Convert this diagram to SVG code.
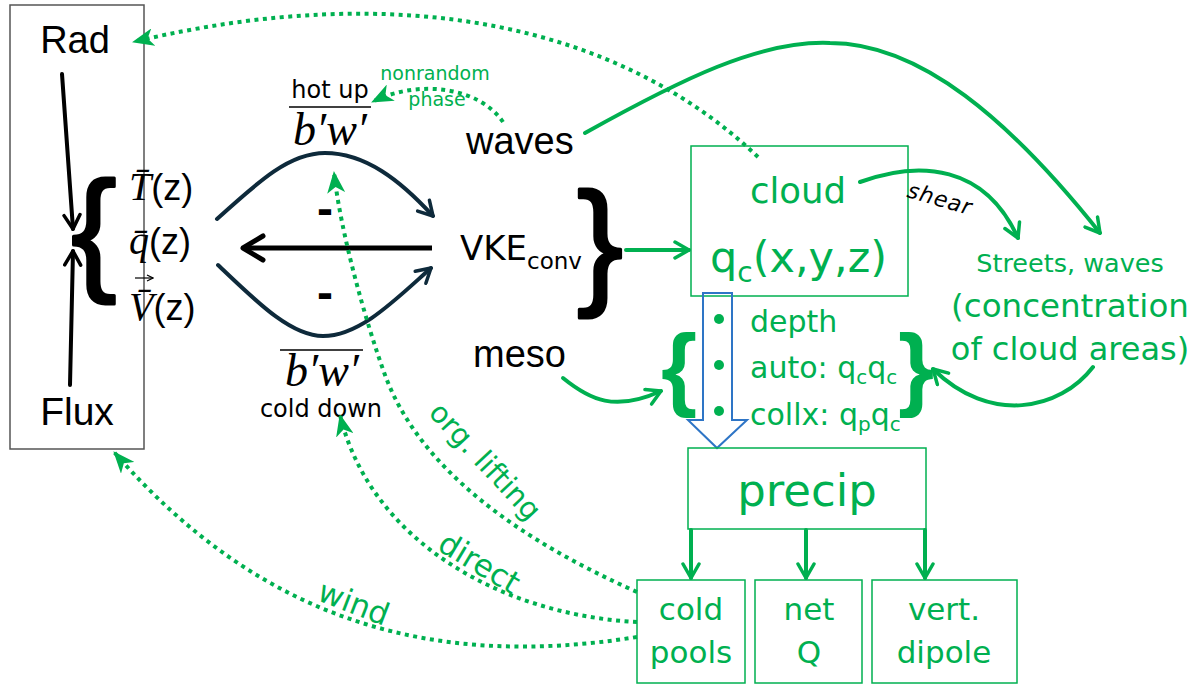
<svg xmlns="http://www.w3.org/2000/svg" width="1198" height="685" viewBox="0 0 1198 685">
<style>
.box{fill:none;stroke:#00B050;stroke-width:1.5}
.kbox{fill:none;stroke:#555;stroke-width:1.5}
.g{fill:#00B050}
.k{fill:#000}
.dj{font-family:"DejaVu Sans",sans-serif}
.ls{font-family:"Liberation Sans",Arial,sans-serif}
.ser{font-family:"Liberation Serif","DejaVu Serif",serif;font-style:italic}
.dot{fill:none;stroke:#00B050;stroke-width:4;stroke-dasharray:4 4.5}
.sg{fill:none;stroke:#00B050;stroke-width:4;stroke-linecap:round}
.nv{fill:none;stroke:#0E2A3B;stroke-width:4;stroke-linecap:round}
.bk{fill:none;stroke:#000;stroke-width:4;stroke-linecap:round}
.brk{stroke:#000;stroke-width:3;stroke-linejoin:round}
</style>
<defs>
<marker id="mG" viewBox="0 0 22 18" markerWidth="22" markerHeight="18" refX="21" refY="9" orient="auto" markerUnits="userSpaceOnUse"><path d="M0,0 L22,9 L0,18 L6,9 Z" fill="#00B050"/></marker>
<marker id="oG" viewBox="0 0 20 20" markerWidth="20" markerHeight="20" refX="17" refY="10" orient="auto" markerUnits="userSpaceOnUse"><path d="M3,2 L17,10 L3,18" fill="none" stroke="#00B050" stroke-width="3.5" stroke-linecap="round" stroke-linejoin="round"/></marker>
<marker id="oN" viewBox="0 0 20 20" markerWidth="20" markerHeight="20" refX="17" refY="10" orient="auto" markerUnits="userSpaceOnUse"><path d="M3,2 L17,10 L3,18" fill="none" stroke="#0E2A3B" stroke-width="3.5" stroke-linecap="round" stroke-linejoin="round"/></marker>
<marker id="oK" viewBox="0 0 20 20" markerWidth="20" markerHeight="20" refX="17" refY="10" orient="auto" markerUnits="userSpaceOnUse"><path d="M3,2 L17,10 L3,18" fill="none" stroke="#000" stroke-width="3.5" stroke-linecap="round" stroke-linejoin="round"/></marker>
<marker id="oKb" viewBox="0 0 28 30" markerWidth="28" markerHeight="30" refX="24" refY="15" orient="auto" markerUnits="userSpaceOnUse"><path d="M4,3 L24,15 L4,27" fill="none" stroke="#000" stroke-width="5" stroke-linecap="round" stroke-linejoin="round"/></marker>
<marker id="sA" viewBox="0 0 8 8" markerWidth="8" markerHeight="8" refX="7" refY="4" orient="auto" markerUnits="userSpaceOnUse"><path d="M1,1 L7,4 L1,7" fill="none" stroke="#000" stroke-width="1.2"/></marker>
</defs>

<g id="radflux">
<rect class="kbox" x="10" y="5" width="134" height="444"/>
<text class="ls k" x="75" y="53" font-size="38" text-anchor="middle">Rad</text>
<text class="ls k" x="77" y="425" font-size="39" text-anchor="middle">Flux</text>
</g>

<g id="state">
<text class="ls k brk" x="94" y="276" font-size="136" text-anchor="middle">{</text>
<text x="129" y="200" font-size="40" class="k"><tspan class="ser">T̄</tspan><tspan class="ls" font-size="36">(z)</tspan></text>
<text x="129" y="254" font-size="40" class="k"><tspan class="ser">q̄</tspan><tspan class="ls" font-size="36">(z)</tspan></text>
<text x="129" y="320" font-size="40" class="k"><tspan class="ser">V̄</tspan><tspan class="ls" font-size="36">(z)</tspan></text>
<path d="M135,278 L153,278" fill="none" stroke="#000" stroke-width="1.2" marker-end="url(#sA)"/>
</g>

<g id="bw-up">
<text class="dj k" x="330" y="98" font-size="24" text-anchor="middle">hot up</text>
<line x1="289" y1="107" x2="371" y2="107" stroke="#000" stroke-width="1.5"/>
<text class="ser k" x="330" y="145" font-size="46" text-anchor="middle">b′w′</text>
</g>

<g id="bw-down">
<line x1="280" y1="350" x2="363" y2="350" stroke="#000" stroke-width="1.5"/>
<text class="ser k" x="322" y="386" font-size="46" text-anchor="middle">b′w′</text>
<text class="dj k" x="321" y="417" font-size="24" text-anchor="middle">cold down</text>
</g>

<g id="minus">
<text class="ls k" x="325" y="225" font-size="48" font-weight="bold" text-anchor="middle">-</text>
<text class="ls k" x="325" y="309" font-size="48" font-weight="bold" text-anchor="middle">-</text>
</g>

<g id="vke">
<text class="dj k" x="460" y="260" font-size="34">VKE<tspan font-size="23" dy="9">conv</tspan></text>
<text class="ls k brk" x="600" y="289" font-size="138" text-anchor="middle">}</text>
</g>

<g id="waves">
<text class="ls k" x="466" y="154" font-size="38">waves</text>
</g>

<g id="meso">
<text class="ls k" x="473" y="367" font-size="38">meso</text>
</g>

<g id="cloud">
<rect class="box" x="691" y="146" width="217" height="150"/>
<text class="dj g" x="798" y="203" font-size="35.5" text-anchor="middle">cloud</text>
<text class="dj g" x="710" y="272" font-size="43">q<tspan font-size="28" dy="10">c</tspan><tspan dy="-10">(x,y,z)</tspan></text>
</g>

<g id="processes">
<path d="M703,293 L732,293 L732,420 L747,420 L717,448 L688,420 L703,420 Z" fill="none" stroke="#2E75C6" stroke-width="2"/>
<text class="ls g" x="679" y="399" font-size="93" font-weight="bold" text-anchor="middle">{</text>
<text class="ls g" x="916" y="399" font-size="93" font-weight="bold" text-anchor="middle">}</text>
<circle class="g" cx="719" cy="319" r="5"/>
<circle class="g" cx="719" cy="365" r="5"/>
<circle class="g" cx="719" cy="411" r="5"/>
<text class="dj g" x="750" y="332" font-size="30">depth</text>
<text class="dj g" x="750" y="378" font-size="30">auto: q<tspan font-size="20" dy="6">c</tspan><tspan dy="-6">q</tspan><tspan font-size="20" dy="6">c</tspan></text>
<text class="dj g" x="750" y="425" font-size="30">collx: q<tspan font-size="20" dy="6">p</tspan><tspan dy="-6">q</tspan><tspan font-size="20" dy="6">c</tspan></text>
</g>

<g id="streets">
<text class="dj g" x="1070" y="272" font-size="25.5" text-anchor="middle">Streets, waves</text>
<text class="dj g" x="1070" y="317" font-size="32.5" text-anchor="middle">(concentration</text>
<text class="dj g" x="1070" y="360" font-size="32" text-anchor="middle">of cloud areas)</text>
</g>

<g id="precip">
<rect class="box" x="688" y="448" width="238" height="81"/>
<text class="dj g" x="807" y="506" font-size="45" text-anchor="middle">precip</text>
</g>

<g id="coldpools">
<rect class="box" x="637" y="580" width="108" height="103"/>
<text class="dj g" x="691" y="620" font-size="31" text-anchor="middle">cold</text>
<text class="dj g" x="691" y="663" font-size="31" text-anchor="middle">pools</text>
</g>

<g id="netq">
<rect class="box" x="755" y="580" width="107" height="103"/>
<text class="dj g" x="809" y="620" font-size="31" text-anchor="middle">net</text>
<text class="dj g" x="809" y="663" font-size="31" text-anchor="middle">Q</text>
</g>

<g id="dipole">
<rect class="box" x="872" y="580" width="145" height="103"/>
<text class="dj g" x="944" y="620" font-size="31" text-anchor="middle">vert.</text>
<text class="dj g" x="944" y="663" font-size="31" text-anchor="middle">dipole</text>
</g>

<g id="connectors">
<path class="bk" d="M62,74 L73,229" marker-end="url(#oK)"/>
<path class="bk" d="M70,385 L73,251" marker-end="url(#oK)"/>
<path class="nv" d="M217,219 C 260,180 290,153 325,153 C 365,153 400,180 433,216" marker-end="url(#oN)"/>
<path class="nv" d="M218,265 C 255,300 290,336 323,336 C 360,336 395,300 431,268" marker-end="url(#oN)"/>
<path d="M432,248 L243,248" fill="none" stroke="#000" stroke-width="5" marker-end="url(#oKb)"/>
<path class="sg" d="M626,250 L689,250" marker-end="url(#oG)"/>
<path class="sg" d="M563,378 C 590,400 615,412 661,391" marker-end="url(#oG)"/>
<path class="sg" d="M585,133 C 680,80 760,40 830,43 C 920,43 1010,120 1100,233" marker-end="url(#oG)"/>
<path class="sg" d="M860,182 C 920,160 985,165 1018,238" marker-end="url(#oG)"/>
<path class="sg" d="M1093,367 C 1060,410 990,425 933,369" marker-end="url(#oG)"/>
<path class="sg" d="M691,530 L691,578" marker-end="url(#oG)"/>
<path class="sg" d="M806,530 L806,578" marker-end="url(#oG)"/>
<path class="sg" d="M925,530 L925,578" marker-end="url(#oG)"/>
<path class="dot" d="M758,157 C 620,25 400,-22 133,42" marker-end="url(#mG)"/>
<path class="dot" d="M503,122 C 480,88 420,78 372,102" marker-end="url(#mG)"/>
<path class="dot" d="M637,592 C 520,540 420,470 385,375 C 365,320 340,230 334,172" marker-end="url(#mG)"/>
<path class="dot" d="M637,622 C 500,615 370,540 340,415" marker-end="url(#mG)"/>
<path class="dot" d="M637,637 C 430,670 260,620 114,452" marker-end="url(#mG)"/>
<text class="dj g" x="435" y="80" font-size="19" text-anchor="middle">nonrandom</text>
<text class="dj g" x="437" y="106" font-size="19" text-anchor="middle">phase</text>
<text class="dj k" x="0" y="0" font-size="22" font-style="oblique" letter-spacing="1" text-anchor="middle" transform="translate(938,206) rotate(16)">shear</text>
<text class="dj g" x="0" y="0" font-size="29" text-anchor="middle" transform="translate(478,468) rotate(47)">org. lifting</text>
<text class="dj g" x="0" y="0" font-size="31" text-anchor="middle" transform="translate(474,572) rotate(31)">direct</text>
<text class="dj g" x="0" y="0" font-size="31" text-anchor="middle" transform="translate(350,613) rotate(21)">wind</text>
</g>
</svg>
